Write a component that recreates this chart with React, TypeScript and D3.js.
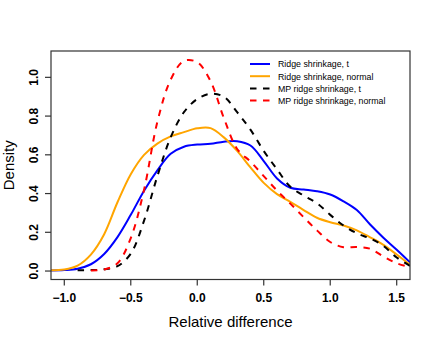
import React from "react";
import * as d3 from "d3";

const xGrid = [-1.1, -1.0, -0.9, -0.8, -0.7, -0.6, -0.5, -0.4, -0.3, -0.2, -0.1, 0.0, 0.1, 0.2, 0.3, 0.4, 0.5, 0.6, 0.7, 0.8, 0.9, 1.0, 1.1, 1.2, 1.3, 1.4, 1.5, 1.6];

const ridgeT = [0.003, 0.005, 0.012, 0.035, 0.088, 0.175, 0.29, 0.415, 0.52, 0.605, 0.642, 0.653, 0.657, 0.668, 0.67, 0.648, 0.568, 0.478, 0.43, 0.421, 0.412, 0.395, 0.36, 0.315, 0.24, 0.172, 0.11, 0.045];
const ridgeNormal = [0.004, 0.008, 0.028, 0.085, 0.19, 0.355, 0.5, 0.6, 0.658, 0.695, 0.717, 0.737, 0.738, 0.69, 0.62, 0.535, 0.455, 0.397, 0.357, 0.315, 0.275, 0.252, 0.235, 0.21, 0.174, 0.135, 0.085, 0.032];
const mpT = [null, null, 0.004, 0.005, 0.009, 0.025, 0.09, 0.26, 0.49, 0.69, 0.82, 0.888, 0.915, 0.9, 0.82, 0.73, 0.62, 0.525, 0.435, 0.39, 0.35, 0.29, 0.235, 0.195, 0.168, 0.13, 0.07, 0.027];
const mpNormal = [null, null, null, 0.003, 0.008, 0.04, 0.17, 0.42, 0.77, 0.988, 1.085, 1.078, 0.98, 0.79, 0.63, 0.565, 0.49, 0.415, 0.348, 0.278, 0.21, 0.15, 0.123, 0.124, 0.115, 0.075, 0.04, 0.02];

const seriesNames = ["Ridge shrinkage, t", "Ridge shrinkage, normal", "MP ridge shrinkage, t", "MP ridge shrinkage, normal"];
const seriesValues = [ridgeT, ridgeNormal, mpT, mpNormal];
const seriesColors = ["#0000FF", "#FFA500", "#000000", "#FF0000"];
const seriesDashed = [false, false, true, true];

const xTicks = [-1.0, -0.5, 0.0, 0.5, 1.0, 1.5];
const yTicks = [0.0, 0.2, 0.4, 0.6, 0.8, 1.0];

const W = 436, H = 343;
const L = 51, R = 410, T = 51, B = 279.5;

const fmt = (v: number) => {
  const s = v.toFixed(1);
  return s.startsWith("-") ? "\u2212" + s.slice(1) : s;
};

export default function App() {
  const x = d3.scaleLinear().domain([-1.1, 1.6]).range([L, R]);
  const y = d3.scaleLinear().domain([-0.0437, 1.136]).range([B, T]);
  const line = d3
    .line<[number, number | null]>()
    .defined((d) => d[1] !== null)
    .x((d) => x(d[0]))
    .y((d) => y(d[1] as number))
    .curve(d3.curveCatmullRom.alpha(0.5));

  const font = "'Liberation Sans', Arial, Helvetica, sans-serif";
  const legX = 250, legY = 64, legStep = 12.2;

  return (
    <svg width={W} height={H} style={{ position: "absolute", left: 0, top: 0, background: "#fff" }} fontFamily={font}>
      <defs>
        <clipPath id="plotclip">
          <rect x={L} y={T} width={R - L} height={B - T} />
        </clipPath>
      </defs>
      <g clipPath="url(#plotclip)">
        {seriesValues.map((vals, i) => (
          <path
            key={i}
            d={line(xGrid.map((xv, j) => [xv, vals[j]]) as [number, number | null][]) || ""}
            fill="none"
            stroke={seriesColors[i]}
            strokeWidth={2}
            strokeDasharray={seriesDashed[i] ? "6.5,6.5" : undefined}
          />
        ))}
      </g>
      <rect x={L} y={T} width={R - L} height={B - T} fill="none" stroke="#333" strokeWidth={1.2} />
      {xTicks.map((t) => (
        <g key={"x" + t}>
          <line x1={x(t)} x2={x(t)} y1={B} y2={B + 6} stroke="#333" strokeWidth={1.2} />
          <text x={x(t)} y={302} textAnchor="middle" fontSize={12} fontWeight="bold">
            {fmt(t)}
          </text>
        </g>
      ))}
      {yTicks.map((t) => (
        <g key={"y" + t}>
          <line x1={L} x2={L - 6} y1={y(t)} y2={y(t)} stroke="#333" strokeWidth={1.2} />
          <text
            transform={`translate(38,${y(t)}) rotate(-90)`}
            textAnchor="middle"
            fontSize={12}
            fontWeight="bold"
          >
            {fmt(t)}
          </text>
        </g>
      ))}
      <text x={(L + R) / 2} y={326.5} textAnchor="middle" fontSize={15}>
        Relative difference
      </text>
      <text transform={`translate(14,${(T + B) / 2}) rotate(-90)`} textAnchor="middle" fontSize={15}>
        Density
      </text>
      {seriesNames.map((name, i) => (
        <g key={name}>
          <line
            x1={legX}
            x2={legX + 20}
            y1={legY + i * legStep}
            y2={legY + i * legStep}
            stroke={seriesColors[i]}
            strokeWidth={2}
            strokeDasharray={seriesDashed[i] ? "6.5,6.5" : undefined}
          />
          <text x={legX + 28} y={legY + i * legStep + 3.3} fontSize={8.8}>
            {name}
          </text>
        </g>
      ))}
    </svg>
  );
}
